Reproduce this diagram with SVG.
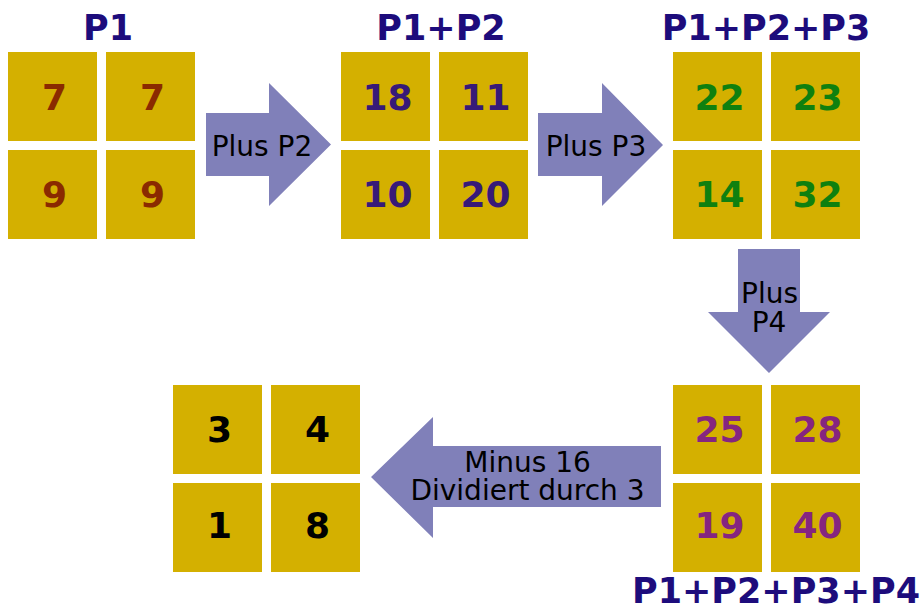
<svg xmlns="http://www.w3.org/2000/svg" width="924" height="608" viewBox="0 0 924 608">
<style>
.box{fill:#d4b000}
.arrow{fill:#8080b9}
.title{font-family:"DejaVu Sans",sans-serif;font-weight:bold;font-size:35px;fill:#1d0c7c;text-anchor:middle}
.num{font-family:"DejaVu Sans",sans-serif;font-weight:bold;font-size:36px;text-anchor:middle}
.lbl{font-family:"DejaVu Sans",sans-serif;font-size:28px;fill:#000;text-anchor:middle}
.c1{fill:#8a2a00}
.c2{fill:#371a78}
.c3{fill:#0f800f}
.c4{fill:#852580}
.c5{fill:#000}
</style>
<rect width="924" height="608" fill="#fff"/>
<g id="connectors">
<g id="arrow-p2">
<polygon class="arrow" points="206,113 269,113 269,83 331,144.5 269,206 269,176 206,176"/>
<text class="lbl" x="262" y="156">Plus P2</text>
</g>
<g id="arrow-p3">
<polygon class="arrow" points="538,113 602,113 602,83 663,145 602,206 602,176 538,176"/>
<text class="lbl" x="596" y="156">Plus P3</text>
</g>
<g id="arrow-p4">
<polygon class="arrow" points="738,249 800,249 800,312 830,312 769,373 708,312 738,312"/>
<text class="lbl" x="769.5" y="303">Plus</text>
<text class="lbl" x="769" y="332">P4</text>
</g>
<g id="arrow-minus">
<polygon class="arrow" points="661,446 661,507 433,507 433,538 371,477 433,417 433,446"/>
<text class="lbl" x="527.5" y="472">Minus 16</text>
<text class="lbl" x="527.5" y="500">Dividiert durch 3</text>
</g>
</g>
<g id="p1">
<text class="title" x="108" y="40">P1</text>
<rect class="box" x="8" y="52" width="89" height="89"/>
<rect class="box" x="106" y="52" width="89" height="89"/>
<rect class="box" x="8" y="150" width="89" height="89"/>
<rect class="box" x="106" y="150" width="89" height="89"/>
<text class="num c1" x="54.5" y="110">7</text>
<text class="num c1" x="152.5" y="110">7</text>
<text class="num c1" x="54.5" y="207">9</text>
<text class="num c1" x="152.5" y="207">9</text>
</g>
<g id="p1p2">
<text class="title" x="441" y="40">P1+P2</text>
<rect class="box" x="341" y="52" width="89" height="89"/>
<rect class="box" x="439" y="52" width="89" height="89"/>
<rect class="box" x="341" y="150" width="89" height="89"/>
<rect class="box" x="439" y="150" width="89" height="89"/>
<text class="num c2" x="387.5" y="110">18</text>
<text class="num c2" x="485.5" y="110">11</text>
<text class="num c2" x="387.5" y="207">10</text>
<text class="num c2" x="485.5" y="207">20</text>
</g>
<g id="p1p2p3">
<text class="title" x="766" y="40">P1+P2+P3</text>
<rect class="box" x="673" y="52" width="89" height="89"/>
<rect class="box" x="771" y="52" width="89" height="89"/>
<rect class="box" x="673" y="150" width="89" height="89"/>
<rect class="box" x="771" y="150" width="89" height="89"/>
<text class="num c3" x="719.5" y="110">22</text>
<text class="num c3" x="817.5" y="110">23</text>
<text class="num c3" x="719.5" y="207">14</text>
<text class="num c3" x="817.5" y="207">32</text>
</g>
<g id="p1p2p3p4">
<text class="title" x="776" y="603">P1+P2+P3+P4</text>
<rect class="box" x="673" y="385" width="89" height="89"/>
<rect class="box" x="771" y="385" width="89" height="89"/>
<rect class="box" x="673" y="483" width="89" height="89"/>
<rect class="box" x="771" y="483" width="89" height="89"/>
<text class="num c4" x="719.5" y="442">25</text>
<text class="num c4" x="817.5" y="442">28</text>
<text class="num c4" x="719.5" y="538">19</text>
<text class="num c4" x="817.5" y="538">40</text>
</g>
<g id="result">
<rect class="box" x="173" y="385" width="89" height="89"/>
<rect class="box" x="271" y="385" width="89" height="89"/>
<rect class="box" x="173" y="483" width="89" height="89"/>
<rect class="box" x="271" y="483" width="89" height="89"/>
<text class="num c5" x="219.5" y="442">3</text>
<text class="num c5" x="317.5" y="442">4</text>
<text class="num c5" x="219.5" y="538">1</text>
<text class="num c5" x="317.5" y="538">8</text>
</g>
</svg>
